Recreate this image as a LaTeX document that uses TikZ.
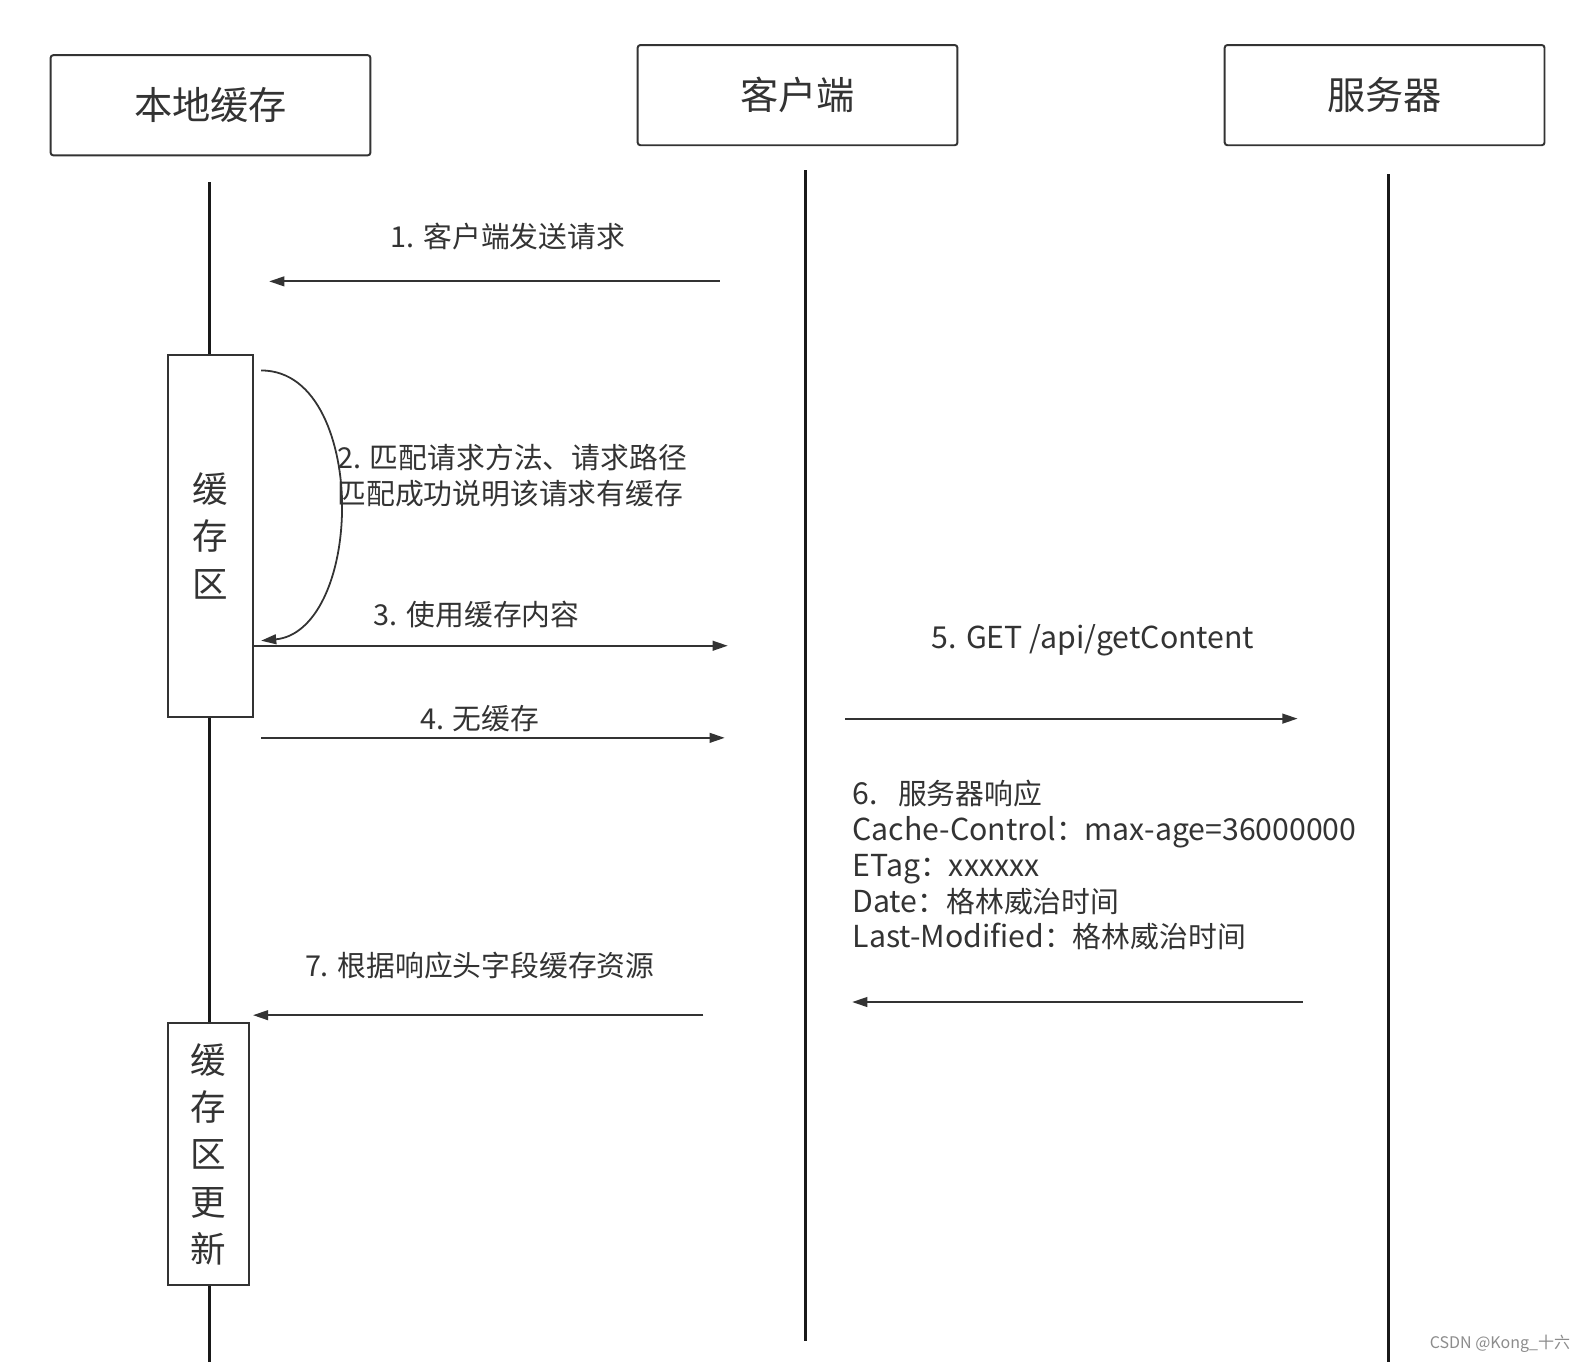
\documentclass[tikz,border=0pt]{standalone}
\usepackage{fontspec}
\usetikzlibrary{arrows.meta}
\newfontfamily\cjk{Noto Sans CJK SC}
\newfontfamily\cjklat[Scale=1.05]{Noto Sans CJK SC}
\definecolor{ink}{HTML}{333333}

\tikzset{
  actor/.style={draw=ink, line width=1.1pt, rounded corners=1.5pt,
    minimum width=6.32cm, minimum height=1.98cm, text=ink,
    font=\cjk\fontsize{21.5}{25}\selectfont},
  lifeline/.style={line width=1.8pt, black!90},
  actbox/.style={draw=ink, fill=white, line width=1.1pt, align=center,
    inner sep=0pt, text=ink, font=\cjk\fontsize{20}{26.6}\selectfont},
  msg/.style={draw=ink, line width=1pt, -{Triangle[length=8.5pt,width=5.5pt]}},
  lbl/.style={font=\cjk\fontsize{16.2}{20.1}\selectfont, inner sep=0pt, text=ink},
}

\begin{document}
\begin{tikzpicture}[x=0.02cm, y=-0.02cm]
\useasboundingbox (0,0) rectangle (1567,1346);

% actors
\node[actor] (local) at (208,104) {本地缓存};
\node[actor] (client) at (788,94) {客户端};
\node[actor] (server) at (1368,94) {服务器};

% lifelines
\coordinate (localtop) at (207,180);
\coordinate (localbot) at (207,1346);
\coordinate (clienttop) at (796,168);
\coordinate (clientbot) at (796,1325);
\coordinate (servertop) at (1372,172);
\coordinate (serverbot) at (1372,1346);
\draw[lifeline] (localtop) -- (localbot);
\draw[lifeline] (clienttop) -- (clientbot);
\draw[lifeline] (servertop) -- (serverbot);

% activation boxes
\node[actbox, minimum width=1.68cm, minimum height=7.14cm] (cachebox) at (208,529.5) {缓\\存\\区};
\node[actbox, minimum width=1.6cm, minimum height=5.18cm] (updatebox) at (206,1140.5) {缓\\存\\区\\更\\新};

% 1
\coordinate (m1s) at (711,278);
\coordinate (m1e) at (266,278);
\draw[msg] (m1s) -- (m1e);
\node[lbl] (l1) at (502,234) {1. 客户端发送请求};

% 2
\coordinate (loopa) at (258,366);
\coordinate (loopb) at (258,633);
\draw[msg] (loopa) .. controls (315,366) and (338,440) .. (338,500)
  .. controls (338,570) and (312,628) .. (loopb);
\node[lbl, align=left, anchor=west] (l2) at (333,470) {2. 匹配请求方法、请求路径\\匹配成功说明该请求有缓存};

% 3
\coordinate (m3s) at (250,638);
\coordinate (m3e) at (719,638);
\draw[msg] (m3s) -- (m3e);
\node[lbl] (l3) at (471,607) {3. 使用缓存内容};

% 4
\coordinate (m4s) at (258,729);
\coordinate (m4e) at (716,729);
\draw[msg] (m4s) -- (m4e);
\node[lbl] (l4) at (474,710) {4. 无缓存};

% 5
\coordinate (m5s) at (835,710);
\coordinate (m5e) at (1282,710);
\draw[msg] (m5s) -- (m5e);
\node[lbl] (l5) at (1080,633) {\cjklat 5. GET /api/getContent};

% 6
\coordinate (m6s) at (1287,990);
\coordinate (m6e) at (842,990);
\draw[msg] (m6s) -- (m6e);
\node[lbl, align=left, anchor=west] (l6) at (842,855) {{\cjklat 6.}\hspace{0.4cm}服务器响应\\{\cjklat Cache-Control}：{\cjklat max-age=36000000}\\{\cjklat ETag}：{\cjklat xxxxxx}\\{\cjklat Date}：格林威治时间\\{\cjklat Last-Modified}：格林威治时间};

% 7
\coordinate (m7s) at (695,1003);
\coordinate (m7e) at (250,1003);
\draw[msg] (m7s) -- (m7e);
\node[lbl] (l7) at (474,954) {7. 根据响应头字段缓存资源};

\node[font=\cjk\fontsize{9}{11}\selectfont, text=black!45, inner sep=0pt] (mark) at (1482,1328) {CSDN @Kong\_十六};
\end{tikzpicture}
\end{document}
